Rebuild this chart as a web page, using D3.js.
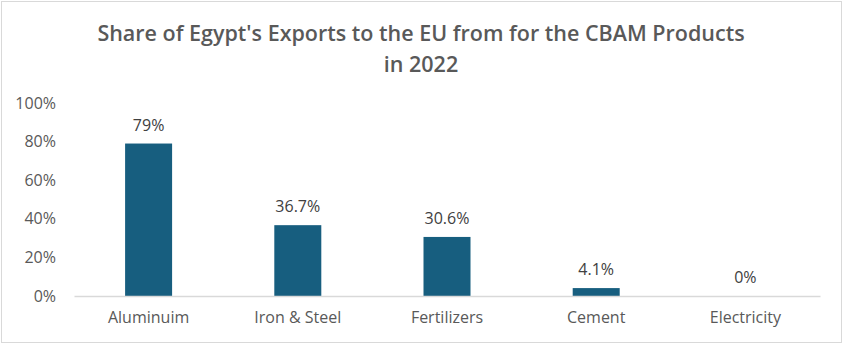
<!DOCTYPE html>
<html>
<head>
<meta charset="utf-8">
<script src="https://cdn.jsdelivr.net/npm/d3@7"></script>
<style>
  body { margin: 0; background: #fff; }
  text { font-family: "Open Sans", "Noto Sans", sans-serif; }
</style>
</head>
<body>
<svg class="chart"></svg>
<script>
const categories = ["Aluminuim", "Iron & Steel", "Fertilizers", "Cement", "Electricity"];
const shares = [79, 36.7, 30.6, 4.1, 0];
const valueLabels = ["79%", "36.7%", "30.6%", "4.1%", "0%"];
const yTicks = [0, 20, 40, 60, 80, 100];
const titleLines = ["Share of Egypt's Exports to the EU from for the CBAM Products", "in 2022"];

const width = 844, height = 345;
const plotLeft = 74, plotRight = 820, plotTop = 103, plotBottom = 296;

const svg = d3.select(".chart").attr("width", width).attr("height", height);

svg.append("rect")
  .attr("x", 1.5).attr("y", 1.5)
  .attr("width", width - 4).attr("height", height - 4)
  .attr("fill", "#fff").attr("stroke", "#d9d9d9");

const x = d3.scaleBand().domain(categories).range([plotLeft, plotRight]).paddingInner(0.685).paddingOuter(0.3425);
const y = d3.scaleLinear().domain([0, 100]).range([plotBottom, plotTop]);

// title
svg.append("g").selectAll("text")
  .data(titleLines)
  .enter().append("text")
    .attr("x", 421)
    .attr("y", function(d, i) { return 41 + i * 31; })
    .attr("text-anchor", "middle")
    .attr("font-size", 21.5)
    .attr("font-weight", 600)
    .attr("fill", "#595959")
    .text(function(d) { return d; });

// y axis labels
const yAxis = svg.append("g")
  .attr("transform", "translate(" + (plotLeft - 18) + ",0)")
  .call(d3.axisLeft(y).tickValues(yTicks).tickSize(0).tickPadding(0).tickFormat(function(d) { return d + "%"; }));
yAxis.select(".domain").remove();
yAxis.selectAll("text")
  .attr("font-family", "Open Sans")
  .attr("font-size", 16)
  .attr("fill", "#595959");

// bars
svg.append("g").selectAll("rect")
  .data(shares)
  .enter().append("rect")
    .attr("x", function(d, i) { return x(categories[i]); })
    .attr("y", function(d) { return y(d); })
    .attr("width", x.bandwidth())
    .attr("height", function(d) { return plotBottom - y(d); })
    .attr("fill", "#175e7f");

// x axis
const xAxis = svg.append("g")
  .attr("transform", "translate(0," + plotBottom + ")")
  .call(d3.axisBottom(x).tickSize(0).tickPadding(16));
xAxis.select(".domain").attr("stroke", "#d9d9d9").attr("stroke-width", 1.5);
xAxis.selectAll("text")
  .attr("font-family", "Open Sans")
  .attr("font-size", 16)
  .attr("fill", "#595959");

// value labels
svg.append("g").selectAll("text")
  .data(shares)
  .enter().append("text")
    .attr("x", function(d, i) { return x(categories[i]) + x.bandwidth() / 2; })
    .attr("y", function(d) { return y(d) - 13; })
    .attr("text-anchor", "middle")
    .attr("font-size", 16)
    .attr("fill", "#404040")
    .text(function(d, i) { return valueLabels[i]; });
</script>
</body>
</html>
